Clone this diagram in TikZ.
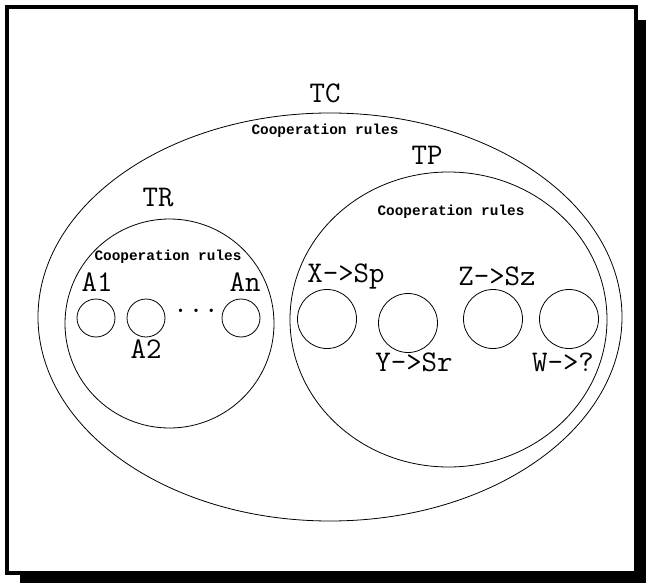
\documentclass[tikz,border=0pt]{standalone}
\usepackage{fontspec}
\newfontfamily\coopfont{Liberation Mono}
\usetikzlibrary{shapes.geometric}
\begin{document}
\begin{tikzpicture}[x=1pt,y=-1pt,
  lbl/.style={font=\fontsize{30}{30}\selectfont\ttfamily, inner sep=0pt},
  coop/.style={font=\fontsize{14.4}{14.4}\selectfont\coopfont\bfseries, inner sep=0pt},
  big/.style={draw, ellipse, line width=0.8pt, inner sep=0pt},
  agent/.style={draw, circle, line width=0.8pt, inner sep=0pt}]
\useasboundingbox (0,0) rectangle (646,586);
\fill[white] (0,0) rectangle (646,586);
% shadow and frame
\fill[black] (20,573) rectangle (646,583);
\fill[black] (636,20) rectangle (646,583);
\draw[line width=4pt, fill=white] (7,7) rectangle (636,573);
% ellipses
\node[big, minimum width=584pt, minimum height=408pt] (TC) at (330,317) {};
\node[big, minimum width=317pt, minimum height=295pt] (TP) at (448.5,319.5) {};
\node[big, minimum width=209pt, minimum height=209pt] (TR) at (169.5,323.5) {};
% labels
\node[lbl] (tcl) at (325,93) {TC};
\node[coop] (tcc) at (325,131) {Cooperation rules};
\node[lbl] (tpl) at (427,155) {TP};
\node[coop] (tpc) at (451,212) {Cooperation rules};
\node[lbl] (trl) at (158,198) {TR};
\node[coop] (trc) at (168,257) {Cooperation rules};
% TR agents
\node[agent, minimum size=38pt] (a1) at (96,318) {};
\node[agent, minimum size=38pt] (a2) at (146,318) {};
\node[agent, minimum size=38pt] (an) at (241,318) {};
\node[lbl] (a1l) at (97,282) {A1};
\node[lbl] (a2l) at (146,349) {A2};
\node[lbl] (anl) at (245,282) {An};
\node[lbl] (dots) at (196,311) {...};
% TP agents
\node[agent, minimum size=59pt] (x) at (327,319) {};
\node[agent, minimum size=59pt] (y) at (408,323) {};
\node[agent, minimum size=59pt] (z) at (493,319) {};
\node[agent, minimum size=59pt] (w) at (569,319) {};
\node[lbl] (xl) at (346,276) {X->Sp};
\node[lbl] (zl) at (497,276) {Z->Sz};
\node[lbl] (yl) at (414,362) {Y->Sr};
\node[lbl] (wl) at (563,362) {W->?};
\end{tikzpicture}
\end{document}
